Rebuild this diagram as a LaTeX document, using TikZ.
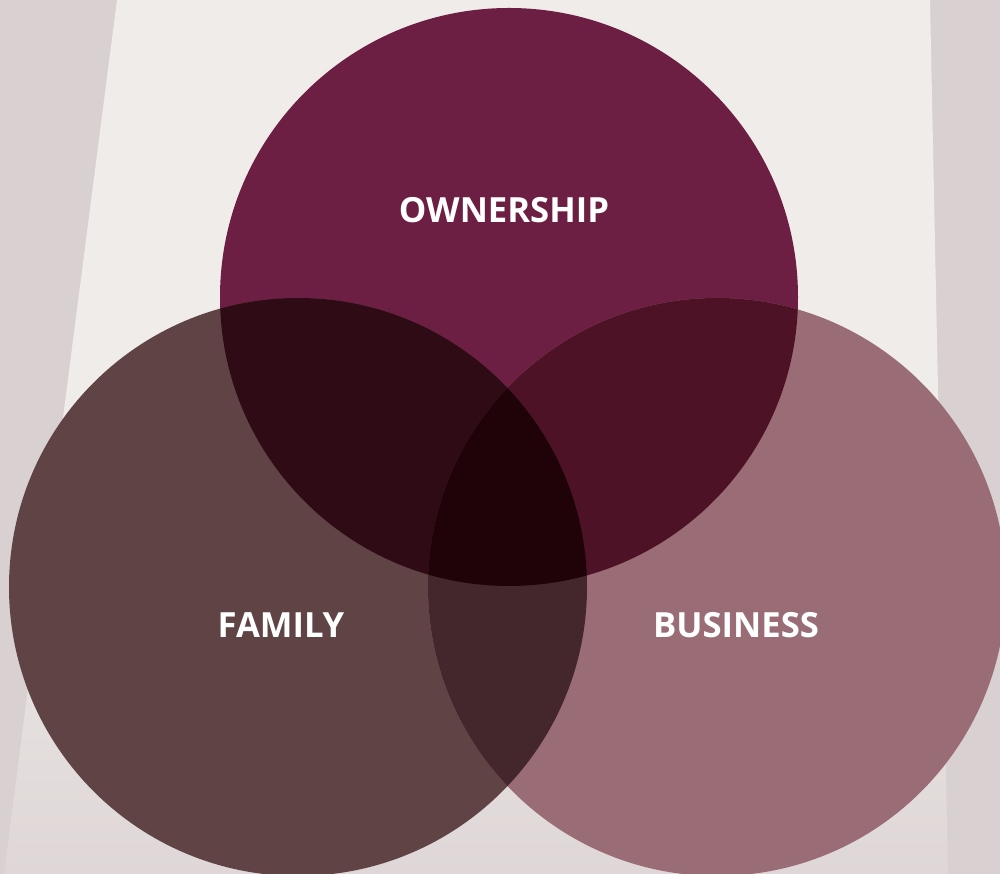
\documentclass[tikz,border=0pt]{standalone}
\usepackage{fontspec}
\setmainfont{Open Sans}
\usetikzlibrary{positioning}

\definecolor{wall}{HTML}{D9D0D1}
\definecolor{band}{HTML}{EFECEA}
\definecolor{bandlow}{HTML}{DFD7D7}
\definecolor{own}{HTML}{6C1F42}
\definecolor{fam}{HTML}{5F4345}
\definecolor{bus}{HTML}{9A6C75}
\definecolor{ownfam}{HTML}{2F0B15}
\definecolor{ownbus}{HTML}{4E1226}
\definecolor{fambus}{HTML}{44272C}
\definecolor{allthree}{HTML}{1F0309}

\begin{document}
\begin{tikzpicture}[x=0.75pt, y=0.75pt]
	\tikzstyle{setname} = [text=white, font=\fontsize{26}{30}\selectfont\bfseries, inner sep=0pt]
	\def\rad{289}

	% background
	\useasboundingbox (0,0) rectangle (1000,874);
	\fill[wall] (0,0) rectangle (1000,874);
	\shade[top color=band, bottom color=bandlow, middle color=band]
		(117,874) -- (930,874) -- (948,0) -- (4,0) -- cycle;

	\coordinate (O) at (509,577);
	\coordinate (F) at (298,287);
	\coordinate (B) at (717,287);

	% single sets
	\fill[own] (O) circle (\rad);
	\fill[fam] (F) circle (\rad);
	\fill[bus] (B) circle (\rad);

	% pairs
	\begin{scope}
		\clip (O) circle (\rad);
		\fill[ownfam] (F) circle (\rad);
		\fill[ownbus] (B) circle (\rad);
	\end{scope}
	\begin{scope}
		\clip (F) circle (\rad);
		\fill[fambus] (B) circle (\rad);
	\end{scope}

	% all three
	\begin{scope}
		\clip (O) circle (\rad);
		\clip (F) circle (\rad);
		\fill[allthree] (B) circle (\rad);
	\end{scope}

	\node[setname] (ownership) at (504,664) {OWNERSHIP};
	\node[setname] (family) at (281,249) {FAMILY};
	\node[setname] (business) at (736,249) {BUSINESS};
\end{tikzpicture}
\end{document}
